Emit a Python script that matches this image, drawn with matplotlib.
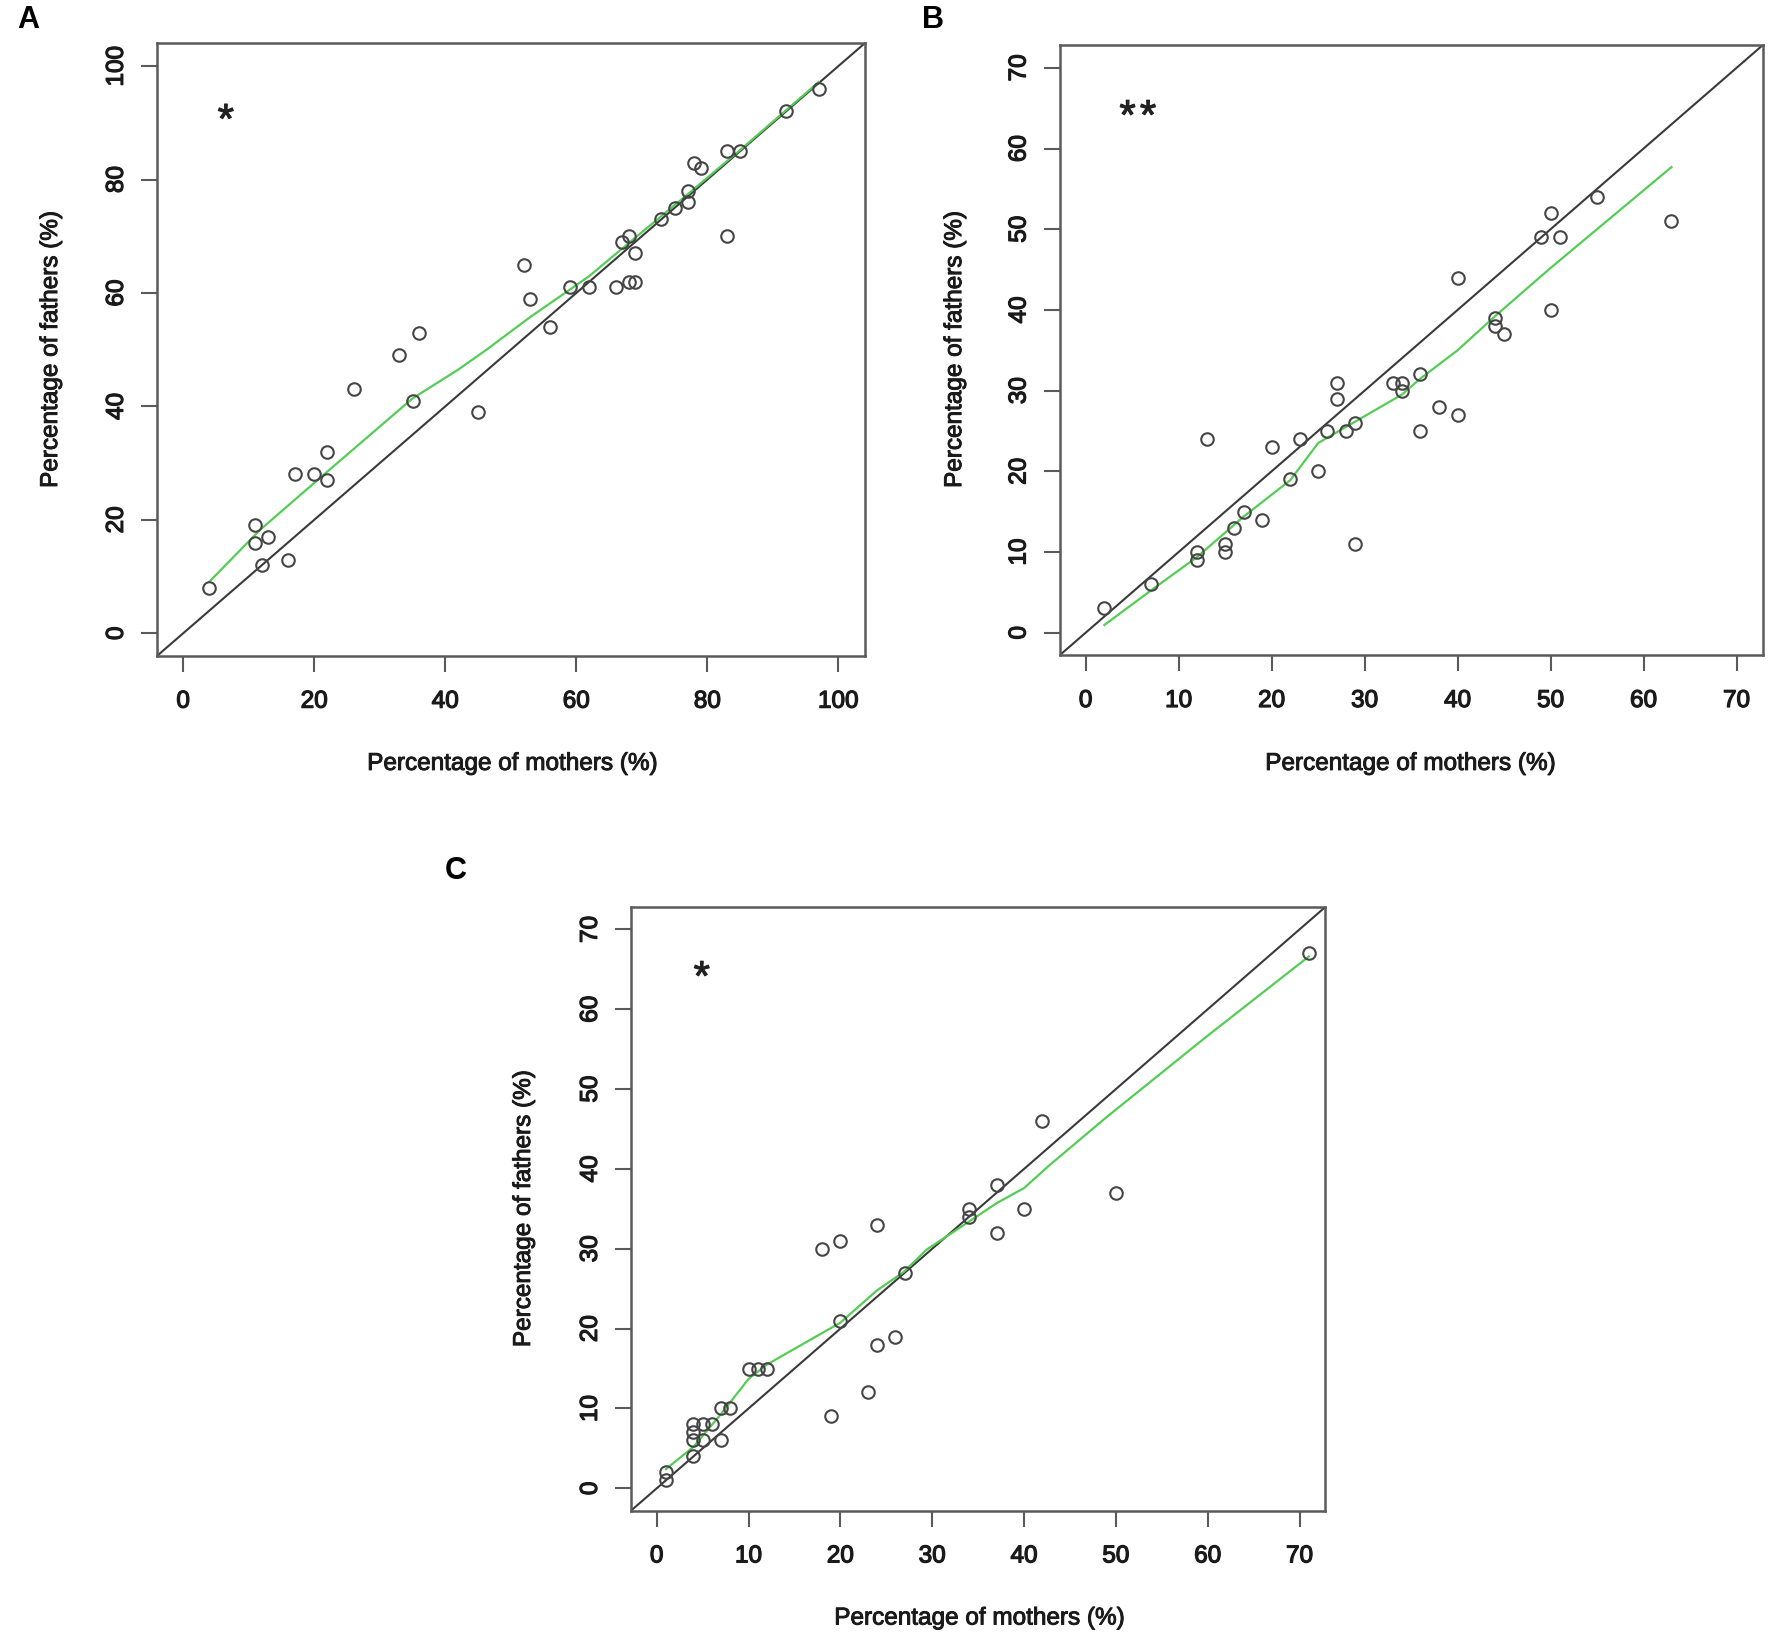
import matplotlib
matplotlib.use("Agg")
import matplotlib.pyplot as plt
import matplotlib.patheffects as pe

plt.rcParams['font.family'] = ['Liberation Sans', 'DejaVu Sans']

# ---------------- data ----------------
# Panel A
a_mothers = [4, 11, 11, 13, 12, 16, 17, 20, 22, 22, 26, 33, 36, 35, 45, 52, 53, 56, 59, 62,
             66, 67, 68, 68, 69, 69, 73, 75, 77, 77, 78, 79, 83, 85, 83, 92, 97]
a_fathers = [8, 19, 16, 17, 12, 13, 28, 28, 32, 27, 43, 49, 53, 41, 39, 65, 59, 54, 61, 61,
             61, 69, 70, 62, 62, 67, 73, 75, 78, 76, 83, 82, 85, 85, 70, 92, 96]
a_smooth_x = [4, 11.7, 22, 35, 42, 46.3, 52.9, 58.9, 62, 67.7, 76.9, 84.7, 97]
a_smooth_y = [9.1, 18.2, 28.5, 41.4, 46.5, 50, 55.7, 60.5, 63, 68.5, 77.3, 84.9, 97.2]

# Panel B
b_mothers = [2, 7, 12, 12, 13, 15, 15, 16, 17, 19, 20, 22, 23, 25, 26, 27, 27, 28, 29, 29,
             33, 34, 34, 36, 36, 38, 40, 40, 44, 44, 45, 50, 49, 50, 51, 55, 63]
b_fathers = [3, 6, 10, 9, 24, 11, 10, 13, 15, 14, 23, 19, 24, 20, 25, 31, 29, 25, 26, 11,
             31, 31, 30, 32, 25, 28, 27, 44, 39, 38, 37, 40, 49, 52, 49, 54, 51]
b_smooth_x = [2, 7.1, 12, 17, 22, 25, 28, 34, 36, 40, 44, 50, 63]
b_smooth_y = [0.95, 5.3, 9.4, 14.4, 18.9, 23.5, 25.5, 29.5, 31.5, 35, 39.2, 45.2, 57.7]

# Panel C
c_mothers = [1, 1, 4, 4, 5, 4, 4, 5, 6, 7, 7, 8, 10, 11, 12, 18, 20, 20, 19, 23, 24, 26,
             24, 27, 34, 34, 37, 37, 40, 42, 50, 71]
c_fathers = [2, 1, 4, 6, 6, 7, 8, 8, 8, 6, 10, 10, 15, 15, 15, 30, 31, 21, 9, 12, 18, 19,
             33, 27, 35, 34, 38, 32, 35, 46, 37, 67]
c_smooth_x = [1, 4, 7, 10, 12, 20, 24, 26.9, 29.4, 34, 37, 40, 42.8, 49, 59.9, 71]
c_smooth_y = [2.4, 5.2, 9.3, 13.7, 15.5, 20.75, 24.8, 27.1, 29.9, 33.4, 35.7, 37.6, 40.5, 46.5, 56.6, 66.6]

ticks_a = [0, 20, 40, 60, 80, 100]
ticks_bc = [0, 10, 20, 30, 40, 50, 60, 70]

xlabel = "Percentage of mothers (%)"
ylabel = "Percentage of fathers (%)"

# ---------------- figure ----------------
W, H = 1772, 1639
fig = plt.figure(figsize=(W / 100, H / 100), dpi=100)

box_col = '#5a5a5a'
pt_col = '#454545'
green = '#55cc55'
txt_col = '#1a1a1a'
thick = [pe.withStroke(linewidth=0.9, foreground=txt_col)]


def panel(rect, xs, ys, sx, sy, ticks, lim, star_xs, star_y):
    ax = fig.add_axes(rect)
    ax.set_xlim(lim)
    ax.set_ylim(lim)
    ax.axline((0, 0), slope=1, color='#3a3a3a', lw=1.5, zorder=2)
    ax.plot(sx, sy, color=green, lw=1.6, zorder=3)
    ax.plot(xs, ys, linestyle='none', marker='o', ms=9, mfc='none',
            mec=pt_col, mew=1.5, zorder=4)
    ax.set_xticks(ticks)
    ax.set_yticks(ticks)
    ax.set_xticklabels([str(t) for t in ticks])
    ax.set_yticklabels([str(t) for t in ticks], rotation=90, va='center')
    ax.tick_params(direction='out', length=11.5, width=1.5, color=box_col,
                   labelsize=17.5, labelcolor=txt_col)
    ax.tick_params(axis='x', pad=13.5)
    ax.tick_params(axis='y', pad=9.5)
    for lbl in ax.get_xticklabels() + ax.get_yticklabels():
        lbl.set_path_effects(thick)
    for s in ax.spines.values():
        s.set_color(box_col)
        s.set_linewidth(1.8)
    for sxp in star_xs:
        ax.text(sxp, star_y, "*", fontsize=30, ha='center', va='center',
                color='#222222',
                path_effects=[pe.withStroke(linewidth=0.8, foreground='#222222')])
    return ax


axA = panel([0.0886, 0.5998, 0.3993, 0.3737], a_mothers, a_fathers, a_smooth_x, a_smooth_y,
            ticks_a, (-4, 104), [6.5], 90.2)
axB = panel([0.598, 0.6002, 0.3967, 0.3722], b_mothers, b_fathers, b_smooth_x, b_smooth_y,
            ticks_bc, (-2.8, 72.8), [4.5, 6.7], 63.8)
axC = panel([0.3561, 0.0783, 0.3918, 0.3683], c_mothers, c_fathers, c_smooth_x, c_smooth_y,
            ticks_bc, (-2.8, 72.8), [4.9], 63.8)

lab_kw = dict(fontsize=17.5, color=txt_col, ha='center', va='center',
              path_effects=[pe.withStroke(linewidth=0.7, foreground=txt_col)])
fig.text(0.2889, 0.5339, xlabel, **lab_kw)
fig.text(0.0288, 0.7865, ylabel, rotation=90, **lab_kw)
fig.text(0.7957, 0.5339, xlabel, **lab_kw)
fig.text(0.539, 0.7865, ylabel, rotation=90, **lab_kw)
fig.text(0.5525, 0.0125, xlabel, **lab_kw)
fig.text(0.2957, 0.2623, ylabel, rotation=90, **lab_kw)

pl_kw = dict(fontsize=22, fontweight='bold', color='black', ha='center', va='center')
fig.text(0.0158, 0.9878, 'A', **pl_kw)
fig.text(0.5265, 0.9878, 'B', **pl_kw)
fig.text(0.257, 0.4686, 'C', **pl_kw)

fig.savefig('out.png', dpi=100, facecolor='white')
